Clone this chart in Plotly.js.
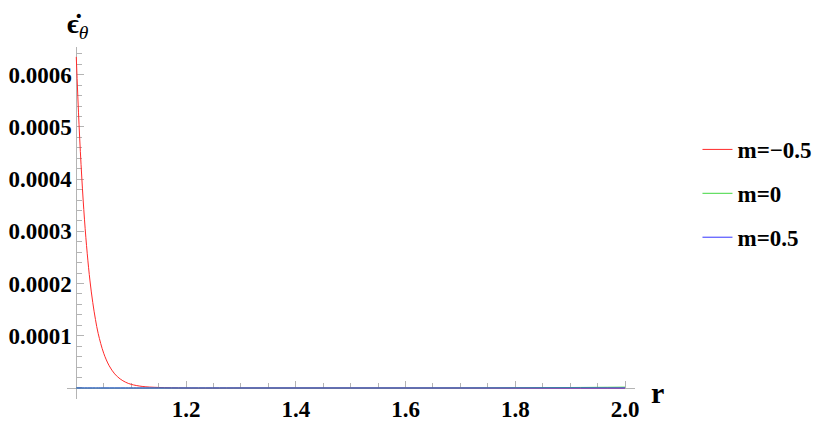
<!DOCTYPE html>
<html>
<head>
<meta charset="utf-8">
<script src="https://cdn.plot.ly/plotly-3.0.1.min.js"></script>
<style>
  html, body { margin: 0; padding: 0; background: #fff; }
  #chart { width: 830px; height: 428px; }
</style>
</head>
<body>
<div id="chart"></div>
<script>
// values
const rValues = [1.0, 1.005, 1.01, 1.015, 1.02, 1.025, 1.03, 1.035, 1.04, 1.05,
                 1.06, 1.07, 1.08, 1.09, 1.1, 1.12, 1.15, 1.2, 1.3, 1.4,
                 1.5, 1.6, 1.7, 1.8, 1.9, 2.0];
const mMinusHalf = [0.000634, 0.000505, 0.000404, 0.000322, 0.000257, 0.000205, 0.000164, 0.000131, 0.000104, 0.0000665,
                    0.0000425, 0.000027, 0.0000173, 0.000011, 0.000007, 0.000003, 0.000001, 0, 0, 0,
                    0, 0, 0, 0, 0, 0];
const mZero = [0, 0, 0, 0, 0, 0, 0, 0, 0, 0,
               0, 0, 0, 0, 0, 0, 0, 0, 0, 0,
               0, 0, 0.0000001, 0.0000004, 0.0000009, 0.0000016];
const mHalf = [0, 0, 0, 0, 0, 0, 0, 0, 0, 0,
               0, 0, 0, 0, 0, 0, 0, 0, 0, 0,
               0, 0, 0, 0, 0, 0];
const seriesNames = ['m=\u22120.5', 'm=0', 'm=0.5'];
const xTicks = [1.2, 1.4, 1.6, 1.8, 2.0];
const xTickText = ['1.2', '1.4', '1.6', '1.8', '2.0'];
const yTicks = [0.0001, 0.0002, 0.0003, 0.0004, 0.0005, 0.0006];
const yTickText = ['0.0001', '0.0002', '0.0003', '0.0004', '0.0005', '0.0006'];

const serif = 'Liberation Serif';
const axisGray = '#b4b4b4';
const labelFont = { family: serif, size: 23, color: '#000' };
const bold = s => '<b>' + s + '</b>';

const mk = (y, name, color, group) => ({
    x: rValues,
    y: y,
    name: bold(name),
    type: 'scatter',
    mode: 'lines',
    line: { color: color, width: 1, shape: 'spline' },
    legendgroup: group
});

const traces = [
    mk(mMinusHalf, seriesNames[0], '#ff2a2a', 'a'),
    mk(mZero, seriesNames[1], '#40d840', 'b'),
    mk(mHalf, seriesNames[2], '#3434ff', 'c')
];

const layout = {
    width: 830,
    height: 428,
    margin: { l: 67, r: 195, t: 47, b: 29 },
    font: { family: serif },
    paper_bgcolor: '#fff',
    plot_bgcolor: '#fff',
    showlegend: true,
    legend: {
        x: 1.11, xanchor: 'left',
        y: 0.77, yanchor: 'top',
        traceorder: 'grouped',
        tracegroupgap: 11,
        font: { family: serif, size: 23, color: '#000' },
        bgcolor: 'rgba(0,0,0,0)'
    },
    xaxis: {
        range: [0.9831, 2.0182],
        anchor: 'free',
        position: 0.03125,
        layer: 'below traces',
        showgrid: false,
        zeroline: false,
        showline: true,
        linecolor: axisGray,
        linewidth: 1,
        tickvals: xTicks,
        ticktext: xTickText.map(bold),
        ticks: 'inside',
        ticklen: 7,
        tickcolor: axisGray,
        tickfont: labelFont,
        minor: { dtick: 0.05, tick0: 1.0, ticks: 'inside', ticklen: 5, tickcolor: axisGray, showgrid: false }
    },
    yaxis: {
        range: [-0.0000211, 0.000653],
        anchor: 'free',
        position: 0.0163,
        layer: 'below traces',
        showgrid: false,
        zeroline: false,
        showline: true,
        linecolor: axisGray,
        linewidth: 1,
        tickvals: yTicks,
        ticktext: yTickText.map(bold),
        ticks: 'inside',
        ticklen: 7,
        tickcolor: axisGray,
        tickfont: labelFont,
        minor: { dtick: 0.00002, tick0: 0, ticks: 'inside', ticklen: 5, tickcolor: axisGray, showgrid: false }
    },
    annotations: [
        {
            // y-axis label: epsilon with a dot, theta subscript
            text: '<b>\u03f5\u0307</b><sub><i>\u03b8</i></sub>',
            xref: 'paper', yref: 'paper',
            x: -0.003, xanchor: 'left',
            y: 1.0, yanchor: 'bottom',
            yshift: 2,
            showarrow: false,
            font: { family: serif, size: 28, color: '#000' }
        },
        {
            text: '<b>r</b>',
            xref: 'paper', yref: 'paper',
            x: 1.039, xanchor: 'center',
            y: 0.018, yanchor: 'middle',
            showarrow: false,
            font: { family: serif, size: 30, color: '#000' }
        }
    ]
};

Plotly.newPlot('chart', traces, layout, { displayModeBar: false, staticPlot: true });
</script>
</body>
</html>
